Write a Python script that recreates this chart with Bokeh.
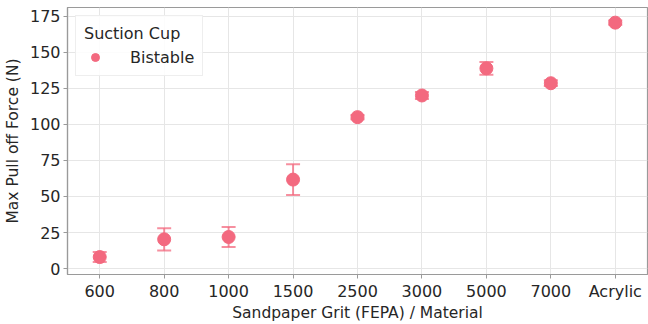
from bokeh.plotting import figure
from bokeh.models import ColumnDataSource, Whisker, FactorRange, Range1d, TeeHead, Legend, LegendItem
from bokeh.embed import file_html
from bokeh.resources import INLINE

categories = ["600", "800", "1000", "1500", "2500", "3000", "5000", "7000", "Acrylic"]
means = [8.0, 20.3, 21.9, 61.7, 105.0, 120.0, 138.8, 128.5, 170.5]
errors = [3.5, 7.7, 7.0, 10.7, 1.5, 2.5, 4.5, 2.0, 1.5]

lower = [m - e for m, e in zip(means, errors)]
upper = [m + e for m, e in zip(means, errors)]
src = ColumnDataSource(dict(x=categories, y=means, lower=lower, upper=upper))

FONT = "DejaVu Sans"
COLOR = "#f3697f"

p = figure(width=648, height=324, output_backend="svg", toolbar_location=None,
           x_range=FactorRange(*categories, range_padding=0.0),
           y_range=Range1d(-4.1, 181),
           min_border_left=67, min_border_right=1, min_border_top=7, min_border_bottom=40)

p.outline_line_color = "#9a9a9a"
p.outline_line_width = 1.2
p.background_fill_color = "white"
p.xgrid.grid_line_color = "#e6e6e6"
p.ygrid.grid_line_color = "#e6e6e6"

p.yaxis.ticker = [0, 25, 50, 75, 100, 125, 150, 175]
for ax in (p.xaxis[0], p.yaxis[0]):
    ax.axis_line_color = "#9a9a9a"
    ax.axis_line_width = 1.2
    ax.major_tick_line_color = "#9a9a9a"
    ax.major_tick_out = 4
    ax.major_tick_in = 0
    ax.minor_tick_line_color = None
    ax.major_label_text_font = FONT
    ax.major_label_text_font_size = "16px"
    ax.major_label_text_color = "#262626"
    ax.axis_label_text_font = FONT
    ax.axis_label_text_font_size = "15.5px"
    ax.axis_label_text_font_style = "normal"
    ax.axis_label_text_color = "#262626"
p.yaxis.axis_label = "Max Pull off Force (N)"
p.xaxis.axis_label = "Sandpaper Grit (FEPA) / Material"
p.yaxis.major_label_standoff = 3
p.xaxis.major_label_standoff = 3
p.yaxis.axis_label_standoff = 5
p.xaxis.axis_label_standoff = 0

w = Whisker(base="x", lower="lower", upper="upper", source=src,
            line_color=COLOR, line_alpha=0.75, line_width=2,
            upper_head=TeeHead(size=14, line_color=COLOR, line_alpha=0.75, line_width=2),
            lower_head=TeeHead(size=14, line_color=COLOR, line_alpha=0.75, line_width=2))
p.add_layout(w)

r = p.scatter("x", "y", source=src, size=13, color=COLOR, line_color=COLOR)

legend = Legend(items=[LegendItem(label="Bistable", renderers=[r])],
                location="top_left", title="Suction Cup",
                title_text_font=FONT, title_text_font_size="16px", title_text_color="#262626",
                title_text_font_style="normal",
                label_text_font=FONT, label_text_font_size="16px", label_text_color="#262626",
                border_line_color="#dddddd", border_line_width=1,
                margin=8, padding=8, spacing=4, label_standoff=24,
                glyph_width=22, glyph_height=20, title_standoff=4,
                background_fill_alpha=0.85)
p.add_layout(legend)

open("out.html", "w").write(file_html(p, INLINE))
